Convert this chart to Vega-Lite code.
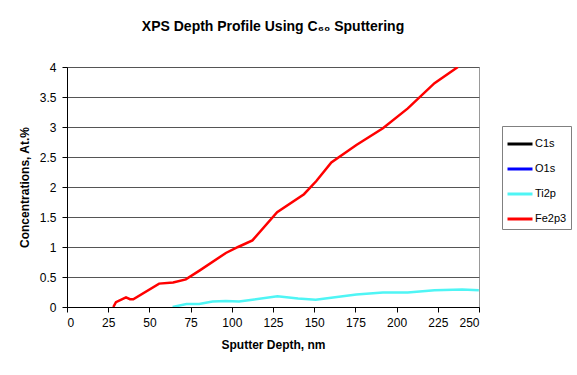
{
  "$schema": "https://vega.github.io/schema/vega-lite/v6.json",
  "autosize": "none",
  "width": 412,
  "height": 240,
  "padding": {"left": 67, "top": 67, "right": 98, "bottom": 68},
  "background": "white",
  "title": {
    "text": "XPS Depth Profile Using C₆₀ Sputtering",
    "font": "Liberation Sans",
    "fontSize": 14,
    "fontWeight": "bold",
    "color": "#000000",
    "anchor": "middle",
    "baseline": "alphabetic",
    "offset": 16
  },
  "config": {
    "view": {"stroke": "#999999", "strokeWidth": 1},
    "axis": {
      "labelFont": "Liberation Sans",
      "labelFontSize": 12,
      "labelColor": "#000000",
      "titleFont": "Liberation Sans",
      "titleFontSize": 12,
      "titleFontWeight": "bold",
      "titleColor": "#000000",
      "domainColor": "#000000",
      "tickColor": "#000000",
      "tickSize": 5,
      "labelPadding": 5
    }
  },
  "data": {
    "values": [
      {"depth": 28.1, "conc": 0.0, "element": "Fe2p3"},
      {"depth": 29.7, "conc": 0.08, "element": "Fe2p3"},
      {"depth": 35.8, "conc": 0.16, "element": "Fe2p3"},
      {"depth": 38.2, "conc": 0.13, "element": "Fe2p3"},
      {"depth": 40.2, "conc": 0.13, "element": "Fe2p3"},
      {"depth": 55.9, "conc": 0.39, "element": "Fe2p3"},
      {"depth": 64.4, "conc": 0.41, "element": "Fe2p3"},
      {"depth": 72.1, "conc": 0.46, "element": "Fe2p3"},
      {"depth": 80.6, "conc": 0.61, "element": "Fe2p3"},
      {"depth": 96.4, "conc": 0.9, "element": "Fe2p3"},
      {"depth": 103.8, "conc": 1.0, "element": "Fe2p3"},
      {"depth": 112.5, "conc": 1.11, "element": "Fe2p3"},
      {"depth": 127.5, "conc": 1.58, "element": "Fe2p3"},
      {"depth": 143.8, "conc": 1.88, "element": "Fe2p3"},
      {"depth": 151.3, "conc": 2.1, "element": "Fe2p3"},
      {"depth": 160.4, "conc": 2.41, "element": "Fe2p3"},
      {"depth": 175.6, "conc": 2.7, "element": "Fe2p3"},
      {"depth": 191.7, "conc": 2.98, "element": "Fe2p3"},
      {"depth": 206.8, "conc": 3.31, "element": "Fe2p3"},
      {"depth": 223.0, "conc": 3.73, "element": "Fe2p3"},
      {"depth": 237.2, "conc": 4.0, "element": "Fe2p3"},
      {"depth": 64.1, "conc": 0.0, "element": "Ti2p"},
      {"depth": 72.5, "conc": 0.05, "element": "Ti2p"},
      {"depth": 80.2, "conc": 0.05, "element": "Ti2p"},
      {"depth": 88.3, "conc": 0.09, "element": "Ti2p"},
      {"depth": 96.4, "conc": 0.1, "element": "Ti2p"},
      {"depth": 104.4, "conc": 0.09, "element": "Ti2p"},
      {"depth": 112.5, "conc": 0.12, "element": "Ti2p"},
      {"depth": 127.7, "conc": 0.18, "element": "Ti2p"},
      {"depth": 140.2, "conc": 0.14, "element": "Ti2p"},
      {"depth": 150.9, "conc": 0.12, "element": "Ti2p"},
      {"depth": 175.6, "conc": 0.21, "element": "Ti2p"},
      {"depth": 191.7, "conc": 0.24, "element": "Ti2p"},
      {"depth": 206.8, "conc": 0.24, "element": "Ti2p"},
      {"depth": 223.0, "conc": 0.28, "element": "Ti2p"},
      {"depth": 239.8, "conc": 0.29, "element": "Ti2p"},
      {"depth": 249.9, "conc": 0.28, "element": "Ti2p"}
    ]
  },
  "mark": {"type": "line", "strokeWidth": 2.5, "clip": true},
  "encoding": {
    "x": {
      "field": "depth",
      "type": "quantitative",
      "scale": {"domain": [0, 250], "nice": false, "zero": false},
      "axis": {
        "title": "Sputter Depth, nm",
        "values": [0, 25, 50, 75, 100, 125, 150, 175, 200, 225, 250],
        "grid": false,
        "titlePadding": 11
      }
    },
    "y": {
      "field": "conc",
      "type": "quantitative",
      "scale": {"domain": [0, 4], "nice": false},
      "axis": {
        "title": "Concentrations, At.%",
        "values": [0, 0.5, 1, 1.5, 2, 2.5, 3, 3.5, 4],
        "format": "~g",
        "grid": true,
        "gridColor": "#555555",
        "gridWidth": 1,
        "labelPadding": 6,
        "titlePadding": 8
      }
    },
    "color": {
      "field": "element",
      "type": "nominal",
      "scale": {
        "domain": ["C1s", "O1s", "Ti2p", "Fe2p3"],
        "range": ["#000000", "#0000FF", "#4FF5F5", "#FF0000"]
      },
      "legend": {
        "title": null,
        "orient": "none",
        "legendX": 435,
        "legendY": 59,
        "strokeColor": "#808080",
        "fillColor": "white",
        "padding": 4,
        "symbolType": "stroke",
        "symbolSize": 625,
        "symbolStrokeWidth": 3,
        "labelFont": "Liberation Sans",
        "labelFontSize": 11,
        "labelColor": "#000000",
        "labelOffset": 1,
        "rowPadding": 5
      }
    }
  }
}
